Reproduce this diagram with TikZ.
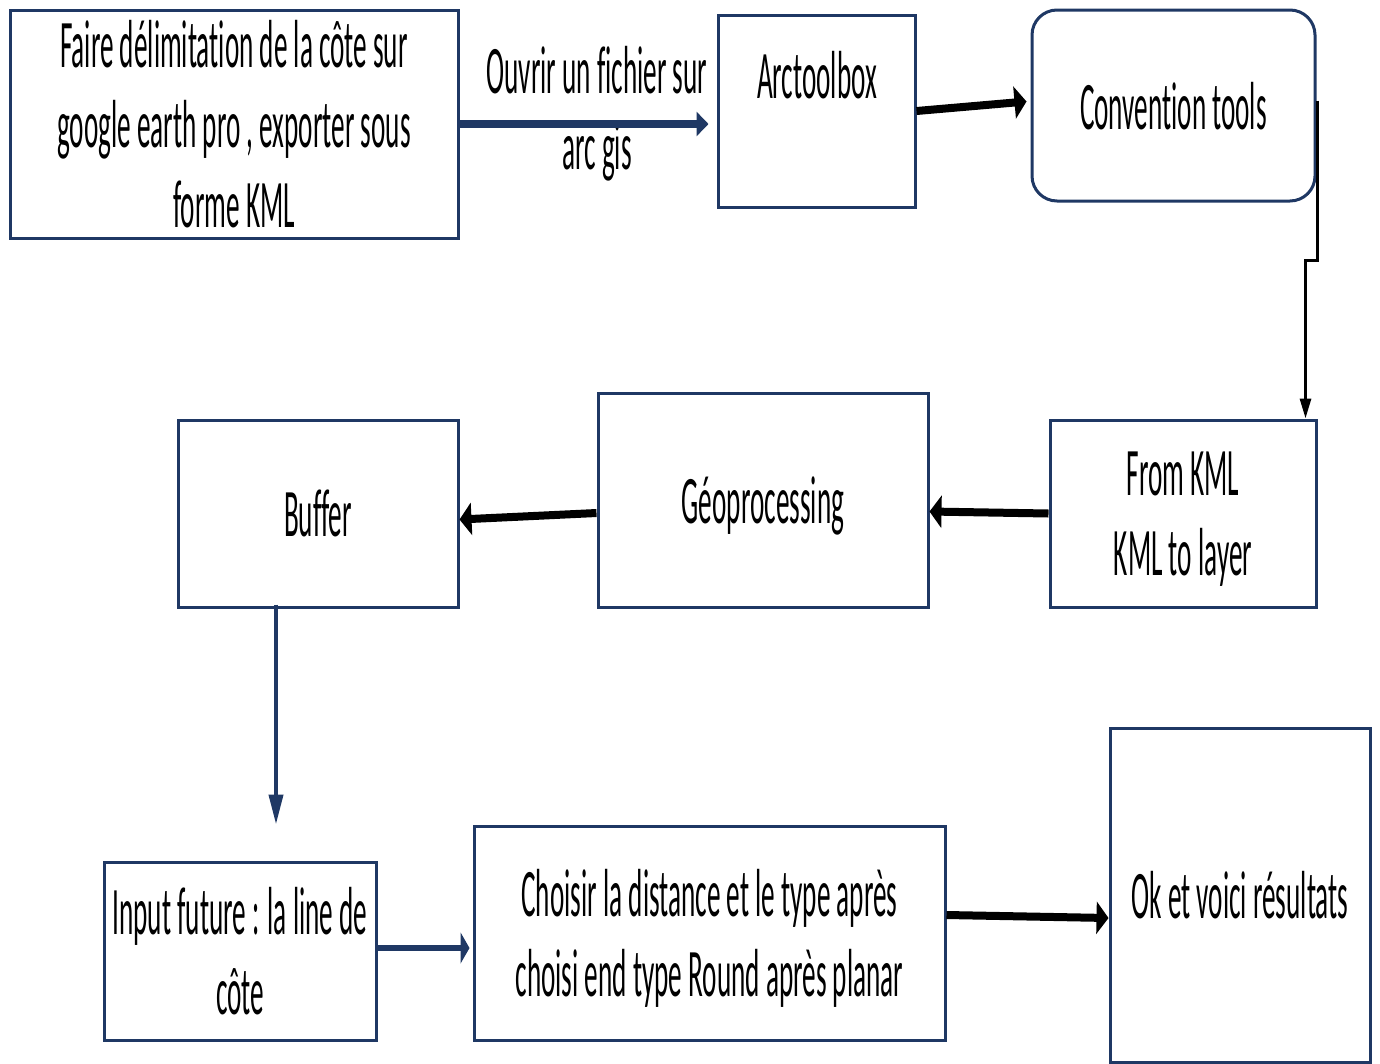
\documentclass[tikz,border=0pt]{standalone}
\usepackage{fontspec}
\setmainfont[FakeStretch=0.40,Ligatures={NoCommon}]{Carlito}
\usetikzlibrary{arrows.meta,calc}
\definecolor{navy}{HTML}{1F3864}
\begin{document}
\begin{tikzpicture}[x=1pt,y=-1pt,
  box/.style={draw=navy,line width=3pt,inner sep=0pt,align=center,text depth=0pt,font=\fontsize{68}{80}\selectfont},
  txt/.style={inner sep=0pt,align=center,font=\fontsize{68}{80}\selectfont},
  bigblack/.style={line width=8pt,-{Triangle[length=12pt,width=32pt]}},
  bignavy/.style={navy,line width=8pt,-{Triangle[length=12pt,width=24pt]}},
]
\useasboundingbox (0,0) rectangle (1380,1063);
\node[box,minimum width=448pt,minimum height=228pt] (faire) at (234,124) {Faire délimitation de la côte sur\\google earth pro , exporter sous\\forme KML};
\node[box,minimum width=197pt,minimum height=192pt] (arct) at (816.5,111) {};
\node[txt] (arctt) at (817,75) {Arctoolbox};
\node[box,rounded corners=25pt,minimum width=283pt,minimum height=191pt] (conv) at (1173.5,105.5) {Convention tools};
\node[box,minimum width=266pt,minimum height=187pt] (kml) at (1183,513.5) {From KML\\KML to layer};
\node[box,minimum width=330pt,minimum height=214pt] (geo) at (763,500) {Géoprocessing};
\node[box,minimum width=280pt,minimum height=187pt] (buf) at (318,513.5) {Buffer};
\node[box,minimum width=272pt,minimum height=178pt] (inp) at (240,951) {Input future : la line de\\côte};
\node[box,minimum width=471pt,minimum height=214pt] (cho) at (709.5,933) {Choisir la distance et le type après\\choisi end type Round après planar};
\node[box,minimum width=260pt,minimum height=334pt] (ok) at (1240,895) {Ok et voici résultats};
\node[txt] (ouv) at (597,70) {Ouvrir un fichier sur};
\node[txt] (arcgis) at (597,152) {arc gis};

\draw[bignavy] (faire.east) -- ([xshift=-8pt]arct.west |- faire.east);
\draw[bigblack] (arct.east) -- ([xshift=-4pt,yshift=4pt]conv.west);
\draw[line width=3pt,-{Triangle[length=20pt,width=11pt]}] ([yshift=5pt,xshift=1pt]conv.east) -- ++(0,160) -| ([xshift=-12pt]kml.north east);
\draw[bigblack] (kml.west) -- ([yshift=2pt]geo.east |- kml.west);
\draw[bigblack] ([yshift=-13pt]geo.west) -- ([yshift=-6pt]buf.east);
\draw[navy,line width=4pt,-{Triangle[length=30pt,width=14pt]}] ([xshift=-42pt,yshift=4pt]buf.south) -- ++(0,220);
\coordinate (ia) at ([yshift=3pt]inp.east);
\draw[navy,line width=6pt,-{Triangle[length=9pt,width=31pt]}] (ia) -- ([xshift=-3pt]cho.west |- ia);
\draw[bigblack] ([yshift=18pt]cho.east) -- ([yshift=-23pt]ok.west);
\end{tikzpicture}
\end{document}
